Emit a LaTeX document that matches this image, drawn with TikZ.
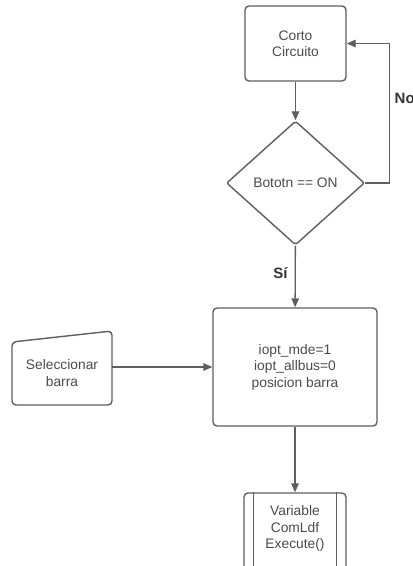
\documentclass[tikz,border=0pt]{standalone}
\usepackage{fontspec}
\setmainfont{Liberation Sans}
\usetikzlibrary{arrows.meta,shapes.geometric}
\definecolor{linegray}{HTML}{5E5E5E}
\definecolor{textgray}{HTML}{4A4A4A}
\definecolor{labelgray}{HTML}{333333}

\begin{document}
\begin{tikzpicture}[x=1pt,y=-1pt,
  base/.style={draw=linegray, line width=1.4pt, text=textgray,
    font=\fontsize{13.8}{16.5}\selectfont, align=center, inner sep=0pt},
  procbox/.style={base, rectangle, rounded corners=4pt},
  decision/.style={base, diamond, rounded corners=2pt,
    minimum width=138pt, minimum height=124pt},
  plaintext/.style={text=textgray, font=\fontsize{13.8}{16.5}\selectfont,
    align=center, inner sep=0pt},
  flow/.style={draw=linegray, line width=1.4pt,
    -{Triangle[length=9pt,width=7.5pt]}},
  branch/.style={text=labelgray, inner sep=0pt,
    font=\fontsize{15}{16}\selectfont\bfseries},
]
\useasboundingbox (0,0) rectangle (413,566);
\clip (0,0) rectangle (413,566);

% process steps
\node[procbox, minimum width=101pt, minimum height=75pt] (corto) at (295.5,43.5) {Corto\\Circuito};
\node[decision] (boton) at (295.5,183) {Bototn == ON};
\node[procbox, minimum width=164pt, minimum height=118pt] (params) at (295,367)
  {iopt\_mde=1\\iopt\_allbus=0\\posicion barra};

% manual input
\draw[base, rounded corners=4pt] (62,405) -- (112,405) -- (112,331) -- (12,342) -- (12,405) -- cycle;
\node[plaintext, minimum width=100pt] (sel) at (62,373) {Seleccionar\\barra};

% predefined process
\node[procbox, minimum width=102pt, minimum height=90pt] (var) at (295,538) {};
\draw[base] ([xshift=10pt]var.north west) -- ([xshift=10pt]var.south west);
\draw[base] ([xshift=-10pt]var.north east) -- ([xshift=-10pt]var.south east);
\node[plaintext] (vartext) at (295,528.5) {Variable\\ComLdf\\Execute()};

% connectors
\draw[flow] (corto) -- (boton);
\draw[flow] (boton) -- (params);
\draw[flow] (params) -- (var);
\draw[flow] (sel.east |- params.west) -- (params.west);
\draw[flow] (boton.east) -- ++(24,0) |- (corto.east);

% branch labels
\node[branch, anchor=west] (no) at (394.5,98) {No};
\node[branch] (si) at (280.5,273) {Sí};
\end{tikzpicture}
\end{document}
